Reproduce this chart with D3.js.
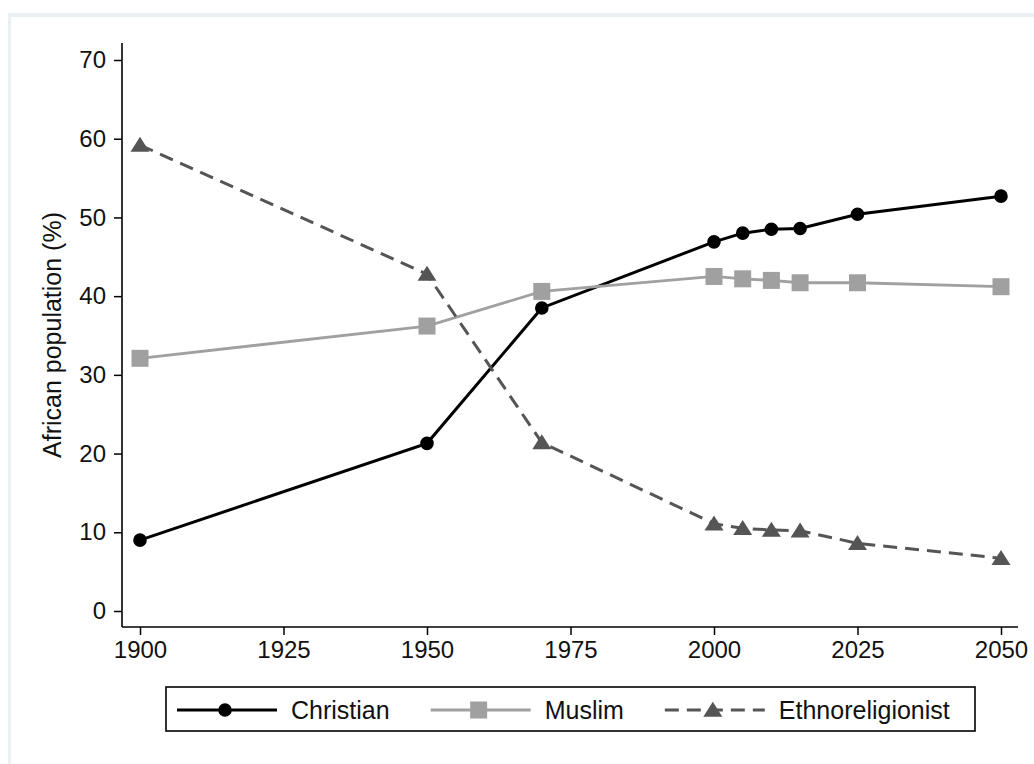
<!DOCTYPE html>
<html>
<head>
<meta charset="utf-8">
<script src="https://cdn.jsdelivr.net/npm/d3@7"></script>
<style>
  html, body { margin: 0; padding: 0; background: #ffffff; }
  svg { display: block; }
  text { font-family: "Liberation Sans", Arial, sans-serif; fill: #111; }
</style>
</head>
<body>
<script>
// ---- Data ----
const years = [1900, 1950, 1970, 2000, 2005, 2010, 2015, 2025, 2050];
const christian = [9.0, 21.3, 38.5, 46.9, 48.0, 48.5, 48.6, 50.4, 52.7];
const muslim = [32.1, 36.2, 40.6, 42.5, 42.2, 42.0, 41.7, 41.7, 41.2];
const ethnoreligionist = [59.2, 42.8, 21.4, 11.1, 10.5, 10.3, 10.2, 8.6, 6.7];
const xTickValues = [1900, 1925, 1950, 1975, 2000, 2025, 2050];
const yTickValues = [0, 10, 20, 30, 40, 50, 60, 70];
const seriesNames = ["Christian", "Muslim", "Ethnoreligionist"];
const yTitle = "African population (%)";

const W = 1034, H = 764;
const svg = d3.select("body").append("svg").attr("width", W).attr("height", H);

// outer frame band
svg.append("rect").attr("x", 8).attr("y", 13).attr("width", W - 8).attr("height", H - 13).attr("fill", "#e9f1f5");
svg.append("rect").attr("x", 11).attr("y", 17).attr("width", W - 11).attr("height", H - 17).attr("fill", "#ffffff");

// plot region
const plot = { left: 122, right: 1018, top: 43, bottom: 627 };
const x = d3.scaleLinear().domain([1900, 2050]).range([140, 1001]);
const y = d3.scaleLinear().domain([0, 70]).range([611, 60]);

// Axes lines
svg.append("line").attr("x1", plot.left).attr("x2", plot.left).attr("y1", plot.top).attr("y2", plot.bottom)
  .attr("stroke", "#000").attr("stroke-width", 1.6);
svg.append("line").attr("x1", plot.left).attr("x2", plot.right).attr("y1", plot.bottom).attr("y2", plot.bottom)
  .attr("stroke", "#000").attr("stroke-width", 1.6);

// Y axis
const yAxis = d3.axisLeft(y).tickValues(yTickValues).tickSize(8).tickPadding(8).tickFormat(d3.format("d"));
const gy = svg.append("g").attr("transform", `translate(${plot.left},0)`).call(yAxis);
gy.select(".domain").remove();
gy.selectAll(".tick line").attr("stroke", "#000").attr("stroke-width", 1.5);
gy.selectAll(".tick text").attr("font-size", 24).attr("font-family", "Liberation Sans, Arial, sans-serif").attr("fill", "#111");

// X axis
const xAxis = d3.axisBottom(x).tickValues(xTickValues).tickSize(8).tickPadding(6).tickFormat(d3.format("d"));
const gx = svg.append("g").attr("transform", `translate(0,${plot.bottom})`).call(xAxis);
gx.select(".domain").remove();
gx.selectAll(".tick line").attr("stroke", "#000").attr("stroke-width", 1.5);
gx.selectAll(".tick text").attr("font-size", 24).attr("font-family", "Liberation Sans, Arial, sans-serif").attr("fill", "#111");

// Y title
svg.append("text")
  .attr("transform", `translate(61,${(plot.top + plot.bottom) / 2}) rotate(-90)`)
  .attr("text-anchor", "middle")
  .attr("font-size", 25)
  .text(yTitle);

// custom flat triangle symbol (Stata style)
const flatTriangle = {
  draw(ctx, size) {
    const w = 19, h = 15;
    ctx.moveTo(0, -h * 0.55);
    ctx.lineTo(w / 2, h * 0.45);
    ctx.lineTo(-w / 2, h * 0.45);
    ctx.closePath();
  }
};

// series
const series = [
  { name: seriesNames[0], values: christian, color: "#000000", width: 3, dash: null, marker: "circle" },
  { name: seriesNames[1], values: muslim, color: "#a0a0a0", width: 2.8, dash: null, marker: "square" },
  { name: seriesNames[2], values: ethnoreligionist, color: "#555555", width: 3, dash: "14,8", marker: "triangle" }
];

const line = d3.line().x((d, i) => x(years[i])).y(d => y(d));
const sym = {
  circle: d3.symbol().type(d3.symbolCircle).size(Math.PI * 6.8 * 6.8),
  square: d3.symbol().type(d3.symbolSquare).size(17 * 17),
  triangle: d3.symbol().type(flatTriangle)
};

series.forEach(s => {
  svg.append("path").datum(s.values).attr("d", line).attr("fill", "none")
    .attr("stroke", s.color).attr("stroke-width", s.width)
    .attr("stroke-dasharray", s.dash);
  svg.append("g").selectAll("path").data(s.values).join("path")
    .attr("d", sym[s.marker])
    .attr("transform", (d, i) => `translate(${x(years[i])},${y(d)})`)
    .attr("fill", s.color);
});

// Legend
const legend = { left: 166, top: 687, right: 975, bottom: 731 };
svg.append("rect").attr("x", legend.left).attr("y", legend.top)
  .attr("width", legend.right - legend.left).attr("height", legend.bottom - legend.top)
  .attr("fill", "#fff").attr("stroke", "#000").attr("stroke-width", 1.6);
const ly = 710;
let cx = 177;
series.forEach(s => {
  svg.append("line").attr("x1", cx).attr("x2", cx + 100).attr("y1", ly).attr("y2", ly)
    .attr("stroke", s.color).attr("stroke-width", s.width).attr("stroke-dasharray", s.dash);
  svg.append("path").attr("d", sym[s.marker]).attr("transform", `translate(${cx + 48},${ly})`).attr("fill", s.color);
  const t = svg.append("text").attr("x", cx + 114).attr("y", 719).attr("font-size", 25).text(s.name);
  const w = t.node().getComputedTextLength();
  cx = cx + 114 + w + 41;
});
</script>
</body>
</html>
